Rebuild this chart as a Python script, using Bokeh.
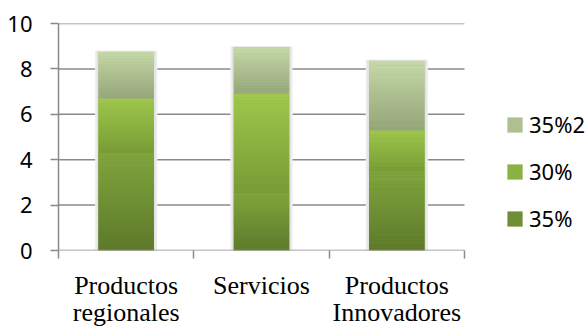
from bokeh.plotting import figure
from bokeh.models import ColumnDataSource, FixedTicker, Legend, LegendItem, Range1d
from bokeh.embed import file_html
from bokeh.resources import INLINE

# ---- data ----
categories = ["Productos\nregionales", "Servicios", "Productos\nInnovadores"]
series_names = ["35%", "30%", "35%2"]
s35 = [4.3, 2.5, 3.5]
s30 = [2.4, 4.4, 1.8]
s35b = [2.05, 2.05, 3.05]
y_ticks = [0, 2, 4, 6, 8, 10]

# ---- styles ----
colors_bottom = ["#5d792a", "#779a35", "#93a478"]
colors_top = ["#80a53d", "#9fc84b", "#c6d9a7"]
colors_mid = ["#6e8f33", "#8bb140", "#aebf91"]
grid_col = "#8a8a8a"
BAR_W = 0.41
N = 30
X_EXTRA = 530 / 406  # frame also hosts the legend on the right

def hex2rgb(h):
    h = h.lstrip("#")
    return [int(h[i:i + 2], 16) for i in (0, 2, 4)]

def mix(c1, c2, t):
    a, b = hex2rgb(c1), hex2rgb(c2)
    return "#%02x%02x%02x" % tuple(int(round(a[k] + (b[k] - a[k]) * t)) for k in range(3))

ncat = len(categories)
centers = [i + 0.5 for i in range(ncat)]

p = figure(width=588, height=330, x_range=Range1d(0, ncat * X_EXTRA), y_range=Range1d(0, 10),
           output_backend="svg", toolbar_location=None,
           min_border_left=58, min_border_right=0, min_border_top=23, min_border_bottom=73)
p.outline_line_color = None
p.background_fill_color = "white"
p.border_fill_color = "white"
p.xgrid.visible = False
p.ygrid.visible = False

# y axis
p.yaxis.ticker = FixedTicker(ticks=y_ticks)
p.yaxis.major_tick_out = 8
p.yaxis.major_tick_in = 0
p.yaxis.minor_tick_line_color = None
p.yaxis.axis_line_color = grid_col
p.yaxis.axis_line_width = 1.5
p.yaxis.major_tick_line_color = grid_col
p.yaxis.major_tick_line_width = 1.5
p.yaxis.major_label_text_font = "Noto Sans"
p.yaxis.major_label_text_font_size = "22px"
p.yaxis.major_label_text_color = "#000000"
p.yaxis.major_label_standoff = 18

# x axis (line drawn as a segment so it stops at the last category)
p.xaxis.ticker = FixedTicker(ticks=centers, minor_ticks=[i for i in range(ncat + 1)])
p.xaxis.major_tick_out = 0
p.xaxis.major_tick_in = 0
p.xaxis.minor_tick_out = 8
p.xaxis.minor_tick_in = 0
p.xaxis.minor_tick_line_color = grid_col
p.xaxis.minor_tick_line_width = 1.5
p.xaxis.axis_line_color = None
p.xaxis.major_label_overrides = {c: lab for c, lab in zip(centers, categories)}
p.xaxis.major_label_text_font = "Liberation Serif"
p.xaxis.major_label_text_font_size = "26px"
p.xaxis.major_label_text_color = "#000000"
p.xaxis.major_label_text_line_height = 0.96
p.xaxis.major_label_standoff = 12

# horizontal grid lines
gy = [y for y in y_ticks if y > 0]
p.segment(x0=[0] * len(gy), x1=[ncat] * len(gy), y0=gy, y1=gy,
          line_color=grid_col, line_width=1.5)

# stacked values
series = [s35, s30, s35b]
bottoms = []
tops = []
acc = [0.0] * ncat
for s in series:
    bottoms.append(list(acc))
    acc = [a + v for a, v in zip(acc, s)]
    tops.append(list(acc))

# soft shadow
p.vbar(x=centers, top=[t + 0.06 for t in acc], bottom=0, width=BAR_W + 0.05,
       fill_color="#eeeeee", line_color=None)
p.vbar(x=centers, top=[t + 0.03 for t in acc], bottom=0, width=BAR_W + 0.025,
       fill_color="#e2e2e2", line_color=None)

renderers = []
for si, s in enumerate(series):
    src = ColumnDataSource(dict(x=centers, bottom=bottoms[si], top=tops[si]))
    r = p.vbar(x="x", bottom="bottom", top="top", width=BAR_W, source=src,
               fill_color=colors_mid[si], line_color=None)
    renderers.append(r)
    xs, bs, ts, cs = [], [], [], []
    for ci in range(ncat):
        b, t = bottoms[si][ci], tops[si][ci]
        for k in range(N):
            xs.append(centers[ci])
            bs.append(b + (t - b) * k / N)
            ts.append(b + (t - b) * (k + 1) / N + (t - b) * 0.002)
            cs.append(mix(colors_bottom[si], colors_top[si], (k + 0.5) / N))
    gsrc = ColumnDataSource(dict(x=xs, bottom=bs, top=ts, c=cs))
    p.vbar(x="x", bottom="bottom", top="top", width=BAR_W, source=gsrc,
           fill_color="c", line_color=None)

# x axis baseline
p.segment(x0=[0], x1=[ncat], y0=[y_ticks[0]], y1=[y_ticks[0]],
          line_color=grid_col, line_width=1.5)

legend = Legend(items=[LegendItem(label=series_names[i], renderers=[renderers[i]]) for i in (2, 1, 0)],
                location=(447, 17), glyph_width=19, glyph_height=19, label_height=26,
                spacing=17, padding=0, margin=0, label_standoff=5,
                label_text_font="Noto Sans", label_text_font_size="22px",
                label_text_color="#000000",
                border_line_alpha=0, background_fill_alpha=0)
p.add_layout(legend)

open("out.html", "w").write(file_html(p, INLINE))
